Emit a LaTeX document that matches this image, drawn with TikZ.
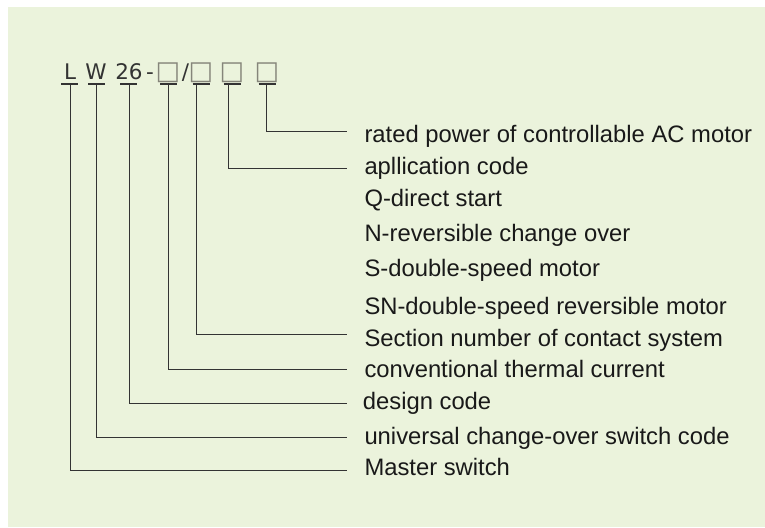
\documentclass[tikz,border=0pt]{standalone}
\usepackage{fontspec}
\setmainfont{Liberation Sans}
\newfontfamily\codefont{DejaVu Sans}
\definecolor{PanelGreen}{HTML}{EBF3DC}
\definecolor{LeadGrey}{HTML}{333333}
\definecolor{BoxGrey}{HTML}{85857A}
\usetikzlibrary{calc}

\begin{document}
\begin{tikzpicture}[x=1pt, y=-1pt,
  codechar/.style = {anchor=base, inner sep=0pt, text=LeadGrey,
    font=\codefont\fontsize{21.5}{24}\selectfont},
  codebox/.style = {codechar, text=BoxGrey,
    font=\codefont\fontsize{26}{28}\selectfont},
  desc/.style = {anchor=base west, inner sep=0pt, text=black!90,
    font=\fontsize{23.8}{28}\selectfont},
  lead/.style = {draw=LeadGrey, line width=1pt},
  underbar/.style = {draw=LeadGrey, line width=2pt}]

\useasboundingbox (0,0) rectangle (765,527);
\fill[PanelGreen] (7.5,7.5) rectangle (765,527);

% type code
\node[codechar] (hL) at (70,79) {L};
\node[codechar] (hW) at (96,79) {W};
\node[codechar] (h26) at (129,79) {26};
\node[codechar] (hDash) at (150,79) {-};
\node[codebox] (hBoxA) at (168,79) {□};
\node[codechar] (hSlash) at (185.5,79) {/};
\node[codebox] (hBoxB) at (201,79) {□};
\node[codebox] (hBoxC) at (232,79) {□};
\node[codebox] (hBoxD) at (267,79) {□};

\draw[underbar] ($(hL.base)+(-9,5)$) -- ++(17,0);
\draw[underbar] ($(hW.base)+(-8,5)$) -- ++(16.5,0);
\draw[underbar] ($(h26.base)+(-9,5)$) -- ++(17,0);
\draw[underbar] ($(hBoxA.base)+(-8,5)$) -- ++(17,0);
\draw[underbar] ($(hBoxB.base)+(-8.5,5)$) -- ++(17,0);
\draw[underbar] ($(hBoxC.base)+(-8.5,5)$) -- ++(17.5,0);
\draw[underbar] ($(hBoxD.base)+(-8.5,5)$) -- ++(17,0);

% descriptions
\node[desc] (dRated) at (364.3,142.3) {rated power of controllable AC motor};
\node[desc] (dAppl) at (364.3,174.3) {apllication code};
\node[desc] (dQ) at (364.3,206.7) {Q-direct start};
\node[desc] (dN) at (364.3,241.7) {N-reversible change over};
\node[desc] (dS) at (364.3,276.7) {S-double-speed motor};
\node[desc] (dSN) at (364.3,314) {SN-double-speed reversible motor};
\node[desc] (dSection) at (364.3,346) {Section number of contact system};
\node[desc] (dCurrent) at (364.3,377.7) {conventional thermal current};
\node[desc] (dDesign) at (362.7,409) {design code};
\node[desc] (dUniversal) at (364.3,444.3) {universal change-over switch code};
\node[desc] (dMaster) at (364.3,475) {Master switch};

% lead ends
\coordinate (eRated) at (346.7,131.7);
\coordinate (eAppl) at (346.7,168.3);
\coordinate (eSection) at (346.7,334);
\coordinate (eCurrent) at (346.7,369.5);
\coordinate (eDesign) at (346.7,403);
\coordinate (eUniversal) at (346.7,437.7);
\coordinate (eMaster) at (346.7,470.5);

\draw[lead] ($(hL.base)+(0,5)$) |- (eMaster);
\draw[lead] ($(hW.base)+(0.5,5)$) |- (eUniversal);
\draw[lead] ($(h26.base)+(0.3,5)$) |- (eDesign);
\draw[lead] ($(hBoxA.base)+(0.3,5)$) |- (eCurrent);
\draw[lead] ($(hBoxB.base)+(-5,5)$) |- (eSection);
\draw[lead] ($(hBoxC.base)+(-3.7,5)$) |- (eAppl);
\draw[lead] ($(hBoxD.base)+(-0.3,5)$) |- (eRated);

\end{tikzpicture}
\end{document}
